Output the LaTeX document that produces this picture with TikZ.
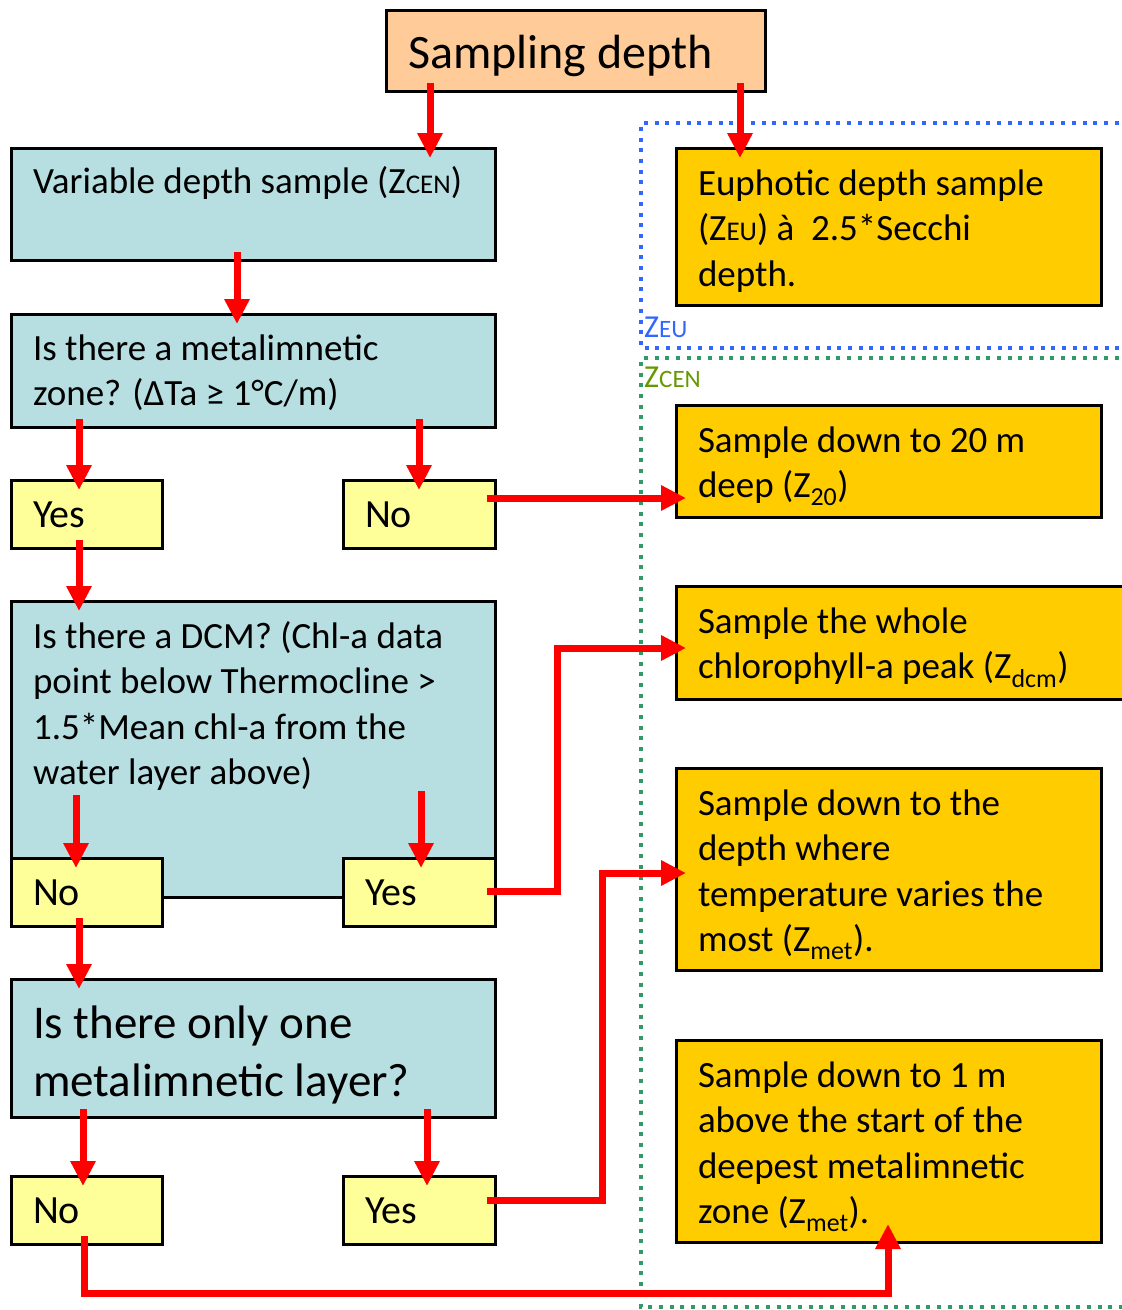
\documentclass[tikz,border=0pt]{standalone}
\usepackage{fontspec}
\setmainfont{Carlito}
\usepackage{xcolor}
\usepackage{tikz}
\usetikzlibrary{arrows.meta, calc}

\definecolor{peach}{HTML}{FFCC99}
\definecolor{qblue}{HTML}{B7DEE1}
\definecolor{ansyellow}{HTML}{FFFF99}
\definecolor{resgold}{HTML}{FFCC00}
\definecolor{eublue}{HTML}{3366FF}
\definecolor{cengreen}{HTML}{339966}
\definecolor{cenlabel}{HTML}{669900}

% height, width, first baseline, text
\newcommand{\boxtext}[4]{\parbox[c][#1][t]{#2}{\raggedright\rule{0pt}{#3}#4}}
\newcommand{\capsm}[1]{{\fontsize{27}{27}\selectfont #1}}

\begin{document}
\begin{tikzpicture}[x=1pt, y=-1pt,
        box/.style={rectangle, draw=black, line width=3pt, anchor=north west, inner xsep=22pt, inner ysep=0pt, outer sep=0pt, font=\fontsize{37}{45.5}\selectfont},
        question/.style={box, fill=qblue},
        answer/.style={box, fill=ansyellow, font=\fontsize{40}{46}\selectfont},
        result/.style={box, fill=resgold},
        arrow/.style={-{Triangle[width=24pt,length=25pt]}, line width=7pt, draw=red, shorten <=-8pt, shorten >=-10pt},
        zone/.style={line width=4pt, dash pattern=on 4pt off 6.7pt}
    ]
        \useasboundingbox (0,0) rectangle (1122,1310);
        \clip (0,0) rectangle (1122,1310);

        % zones
        \draw[zone, draw=eublue] (1140,123) -- (641,123) -- (641,348) -- (1140,348);
        \draw[zone, draw=cengreen] (1140,358) -- (641,358) -- (641,1307) -- (1140,1307);
        \node[anchor=south west, inner sep=0pt, text=eublue, font=\fontsize{32}{32}\selectfont] (eulabel) at (644,338) {Z{\fontsize{25}{25}\selectfont EU}};
        \node[anchor=south west, inner sep=0pt, text=cenlabel, font=\fontsize{32}{32}\selectfont] (cenlabel) at (644,388) {Z{\fontsize{25}{25}\selectfont CEN}};

        \node[box, fill=peach, font=\fontsize{48}{56}\selectfont] (samp) at (386,10) {\boxtext{81pt}{335pt}{58pt}{Sampling depth}};

        \node[question] (var) at (11,148) {\boxtext{112pt}{440pt}{45pt}{Variable depth sample (Z\capsm{CEN})}};
        \node[question] (met) at (11,314) {\boxtext{113pt}{440pt}{46pt}{Is there a metalimnetic\\zone? (ΔTa ≥ 1°C/m)}};
        \node[answer] (metyes) at (11,480) {\boxtext{68pt}{107pt}{47pt}{Yes}};
        \node[answer] (metno) at (343,480) {\boxtext{68pt}{108pt}{47pt}{No}};
        \node[question] (dcm) at (11,601) {\boxtext{296pt}{440pt}{47pt}{Is there a DCM? (Chl-a data\\point below Thermocline >\\1.5*Mean chl-a from the\\water layer above)}};
        \node[answer] (dcmno) at (11,858) {\boxtext{68pt}{107pt}{47pt}{No}};
        \node[answer] (dcmyes) at (343,858) {\boxtext{68pt}{108pt}{47pt}{Yes}};
        \node[question, font=\fontsize{47}{58}\selectfont] (one) at (11,979) {\boxtext{138pt}{440pt}{59pt}{Is there only one\\metalimnetic layer?}};
        \node[answer] (oneno) at (11,1176) {\boxtext{68pt}{107pt}{47pt}{No}};
        \node[answer] (oneyes) at (343,1176) {\boxtext{68pt}{108pt}{47pt}{Yes}};

        \node[result] (eu) at (676,148) {\boxtext{157pt}{381pt}{47pt}{Euphotic depth sample\\(Z\capsm{EU}) à\ \ 2.5*Secchi\\depth.}};
        \node[result] (z20) at (676,405) {\boxtext{112pt}{381pt}{47pt}{Sample down to 20 m\\deep (Z\textsubscript{20})}};
        \node[result] (whole) at (676,586) {\boxtext{113pt}{420pt}{47pt}{Sample the whole\\chlorophyll-a peak (Z\textsubscript{dcm})}};
        \node[result] (zmet) at (676,768) {\boxtext{202pt}{381pt}{47pt}{Sample down to the\\depth where\\temperature varies the\\most (Z\textsubscript{met}).}};
        \node[result] (deep) at (676,1040) {\boxtext{202pt}{381pt}{47pt}{Sample down to 1 m\\above the start of the\\deepest metalimnetic\\zone (Z\textsubscript{met}).}};

        % Connectors
        \draw[arrow] (samp.south -| 430,0) -- (var.north -| 430,0);
        \draw[arrow] (samp.south -| 740,0) -- (eu.north -| 740,0);
        \draw[arrow] (var.south -| 237,0) -- (met.north -| 237,0);
        \draw[arrow] (met.south -| 79,0) -- (metyes.north -| 79,0);
        \draw[arrow] (met.south -| 419,0) -- (metno.north -| 419,0);
        \draw[arrow] (metno.east |- 0,498) -- (z20.west |- 0,498);
        \draw[arrow] (metyes.south -| 79,0) -- (dcm.north -| 79,0);
        \draw[arrow] ($(dcmno.north -| 76,0)+(0,-55)$) -- (dcmno.north -| 76,0);
        \draw[arrow] ($(dcmyes.north -| 421,0)+(0,-59)$) -- (dcmyes.north -| 421,0);
        \draw[arrow] (dcmyes.east |- 0,891) -- (557,891) |- (whole.west |- 0,648);
        \draw[arrow] (dcmno.south -| 79,0) -- (one.north -| 79,0);
        \draw[arrow] (one.south -| 83,0) -- (oneno.north -| 83,0);
        \draw[arrow] (one.south -| 427,0) -- (oneyes.north -| 427,0);
        \draw[arrow] (oneyes.east |- 0,1200) -- (602,1200) |- (zmet.west |- 0,873);
        \draw[arrow, shorten >=-18pt] (oneno.south -| 84,0) |- (888,1293) -- (deep.south -| 888,0);

    \end{tikzpicture}
\end{document}
